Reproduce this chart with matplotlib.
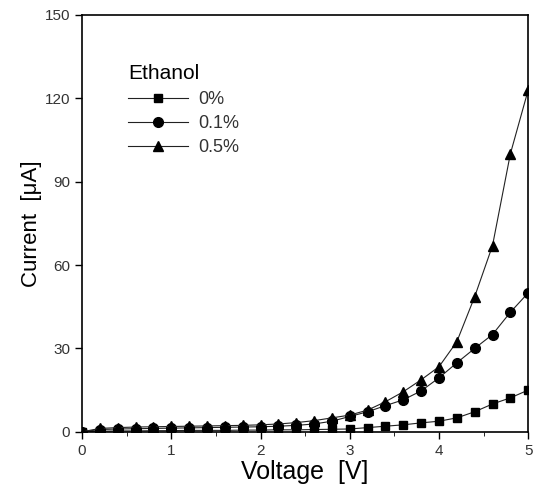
import numpy as np
import matplotlib
matplotlib.use("Agg")
import matplotlib.pyplot as plt

# voltage steps (V)
voltage = [0.0, 0.2, 0.4, 0.6, 0.8, 1.0, 1.2, 1.4, 1.6, 1.8, 2.0, 2.2, 2.4,
           2.6, 2.8, 3.0, 3.2, 3.4, 3.6, 3.8, 4.0, 4.2, 4.4, 4.6, 4.8, 5.0]

# current (uA) for each ethanol concentration
cur_0 = [0.0, 0.2, 0.3, 0.3, 0.4, 0.4, 0.5, 0.5, 0.5, 0.6, 0.6, 0.7, 0.7,
         0.8, 0.9, 1.0, 1.5, 2.0, 2.5, 3.2, 3.8, 5.0, 7.2, 10.0, 12.2, 15.0]
cur_01 = [0.0, 0.8, 1.0, 1.1, 1.2, 1.3, 1.4, 1.5, 1.6, 1.7, 1.8, 2.0, 2.3,
          2.8, 3.8, 5.5, 7.2, 9.4, 11.5, 14.7, 19.4, 24.8, 30.0, 35.0, 43.0, 50.0]
cur_05 = [0.0, 1.2, 1.5, 1.7, 1.8, 1.9, 2.0, 2.1, 2.2, 2.3, 2.5, 2.8, 3.3,
          4.0, 5.0, 6.0, 7.8, 10.8, 14.4, 18.7, 23.4, 32.4, 48.6, 67.0, 100.0, 123.0]

labels = ["0%", "0.1%", "0.5%"]
markers = ["s", "o", "^"]
sizes = [5.5, 7, 7.5]

plt.rcParams['font.family'] = ['Liberation Sans', 'DejaVu Sans']

fig = plt.figure(figsize=(5.33, 4.98), dpi=100)
ax = fig.add_axes([0.154, 0.133, 0.837, 0.837])

for y, lab, m, ms in zip([cur_0, cur_01, cur_05], labels, markers, sizes):
    ax.plot(voltage, y, color='#222222', linewidth=0.8, marker=m,
            markersize=ms, markerfacecolor='black', markeredgecolor='black',
            label=lab)

ax.set_xlim(0, 5)
ax.set_ylim(0, 150)
ax.set_xticks([0, 1, 2, 3, 4, 5])
ax.set_xticks(np.arange(0.5, 5, 1.0), minor=True)
ax.set_yticks([0, 30, 60, 90, 120, 150])
ax.tick_params(axis='both', which='major', direction='out', length=5,
               width=1, labelsize=11, labelcolor='#333333')
ax.tick_params(axis='x', which='minor', direction='out', length=3)
for s in ax.spines.values():
    s.set_linewidth(1.2)

ax.set_xlabel("Voltage  [V]", fontsize=18, labelpad=2)
ax.set_ylabel("Current  [μA]", fontsize=16, labelpad=2)

leg = ax.legend(title="Ethanol", loc='upper left', bbox_to_anchor=(0.087, 0.90),
                frameon=False, fontsize=13, title_fontsize=15,
                handlelength=3.3, handletextpad=0.6, labelspacing=0.38,
                borderaxespad=0)
leg._legend_box.align = "left"
leg._legend_box.sep = 6
for t in leg.get_texts():
    t.set_color('#333333')

fig.savefig("out.png", dpi=100)
